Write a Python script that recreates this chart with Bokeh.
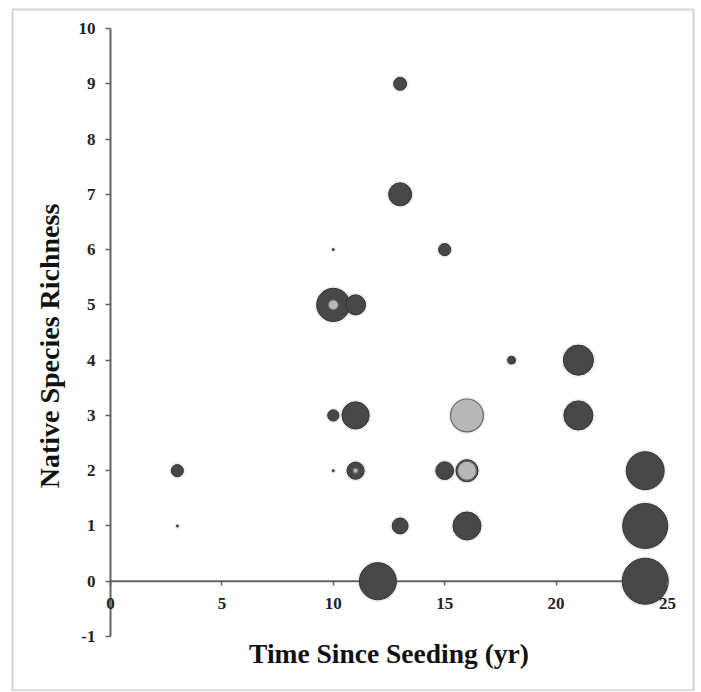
import numpy as np
from bokeh.plotting import figure
from bokeh.models import BoxAnnotation, Label, FixedTicker, Range1d, LinearAxis
from bokeh.embed import file_html
from bokeh.resources import INLINE

# Dark bubbles (main series): x = years since seeding, y = richness, v = bubble value
dark_x = [13, 13, 15, 10, 10, 11, 18, 21, 10, 11, 21, 3, 10, 11, 15, 16, 24, 3, 13, 16, 24, 12, 24]
dark_y = [9, 7, 6, 6, 5, 5, 4, 4, 3, 3, 3, 2, 2, 2, 2, 2, 2, 1, 1, 1, 1, 0, 0]
dark_v = [8, 25, 7, 0.2, 52, 19, 3, 43, 6, 35, 40, 7, 0.2, 14, 15, 23, 68, 0.2, 12, 37, 96, 65, 100]

# Light bubbles (second series)
light_x = [10, 11, 16, 16]
light_y = [5, 2, 3, 2]
light_v = [4.7, 1.2, 51, 17]

x_ticks = [0, 5, 10, 15, 20, 25]
y_ticks = [-1, 0, 1, 2, 3, 4, 5, 6, 7, 8, 9, 10]

x_title = "Time Since Seeding (yr)"
y_title = "Native Species Richness"

SCALE = 4.6
W, H = 700, 691
FONT = "Liberation Serif"
AXIS_COLOR = "#626262"

p = figure(width=W, height=H, output_backend="svg", toolbar_location=None,
           x_range=Range1d(-4.937, 26.481), y_range=Range1d(-1.995, 10.507),
           x_axis_location=None, y_axis_location=None,
           min_border_left=0, min_border_right=0, min_border_top=0, min_border_bottom=0)
p.background_fill_color = "white"
p.border_fill_color = "white"
p.outline_line_color = None
p.xgrid.visible = False
p.ygrid.visible = False

# axis lines spanning only the tick extent
p.segment(x0=[x_ticks[0]], y0=[0], x1=[x_ticks[-1]], y1=[0], line_color=AXIS_COLOR, line_width=2)
p.segment(x0=[0], y0=[y_ticks[0]], x1=[0], y1=[y_ticks[-1]], line_color=AXIS_COLOR, line_width=2)

xa = LinearAxis(fixed_location=0, ticker=FixedTicker(ticks=x_ticks))
xa.axis_line_color = None
xa.major_tick_line_color = AXIS_COLOR
xa.major_tick_line_width = 1.5
xa.major_tick_out = 4
xa.major_tick_in = 0
xa.minor_tick_line_color = None
xa.major_label_text_font = FONT
xa.major_label_text_font_style = "bold"
xa.major_label_text_font_size = "17px"
xa.major_label_text_color = "#222222"
xa.major_label_standoff = 13
p.add_layout(xa, "below")

ya = LinearAxis(fixed_location=0, ticker=FixedTicker(ticks=y_ticks))
ya.axis_line_color = None
ya.major_tick_line_color = AXIS_COLOR
ya.major_tick_line_width = 1.5
ya.major_tick_out = 5
ya.major_tick_in = 0
ya.minor_tick_line_color = None
ya.major_label_text_font = FONT
ya.major_label_text_font_style = "bold"
ya.major_label_text_font_size = "17px"
ya.major_label_text_color = "#222222"
ya.major_label_standoff = 10
ya.major_label_overrides = {t: str(t) for t in y_ticks}
ya.axis_label = y_title
ya.axis_label_text_font = FONT
ya.axis_label_text_font_style = "bold"
ya.axis_label_text_font_size = "28px"
ya.axis_label_text_color = "#111111"
ya.axis_label_standoff = 11
p.add_layout(ya, "left")

p.add_layout(Label(x=(x_ticks[0] + x_ticks[-1]) / 2, y=y_ticks[0], y_offset=-17,
                   text=x_title, text_align="center", text_baseline="middle",
                   text_font=FONT, text_font_style="bold", text_font_size="27.5px",
                   text_color="#111111"))

dsz = [SCALE * np.sqrt(v) for v in dark_v]
lsz = [SCALE * np.sqrt(v) for v in light_v]

# soft shadow
p.scatter(dark_x, dark_y, size=[s + 4 for s in dsz], fill_color="#9a9a9a", fill_alpha=0.18, line_color=None)
p.scatter(light_x, light_y, size=[s + 4 for s in lsz], fill_color="#9a9a9a", fill_alpha=0.18, line_color=None)
p.scatter(dark_x, dark_y, size=dsz, fill_color="#474747", line_color="#333333", line_width=1)
p.scatter(light_x, light_y, size=lsz, fill_color="#b8b8b8", line_color="#6a6a6a", line_width=1.2)

p.add_layout(BoxAnnotation(left=12, right=693, top=9, bottom=690,
                           left_units="canvas", right_units="canvas",
                           top_units="canvas", bottom_units="canvas",
                           fill_color=None, line_color="#6e6e6e", line_width=2))

open("out.html", "w").write(file_html(p, INLINE))
